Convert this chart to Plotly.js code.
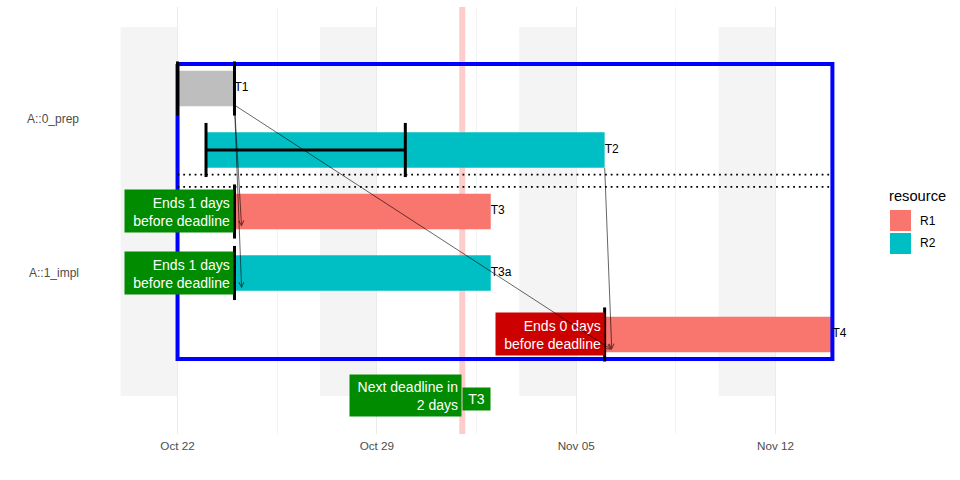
<!DOCTYPE html>
<html><head><meta charset="utf-8">
<script src="https://cdn.plot.ly/plotly-3.0.1.min.js"></script>
<style>html,body{margin:0;padding:0;background:#fff}#chart{width:960px;height:480px}</style>
</head><body><div id="chart"></div>
<script>
// ---------- data ----------
const tasks = ['T1', 'T2', 'T3', 'T3a', 'T4'];
const taskRows = [1, 2, 3, 4, 5];
const taskStarts = ['2018-10-22', '2018-10-23', '2018-10-24', '2018-10-24', '2018-11-06'];
const taskEnds = ['2018-10-24', '2018-11-06', '2018-11-02', '2018-11-02', '2018-11-14'];
const taskResources = [null, 'R2', 'R1', 'R2', 'R1'];
const resources = ['R1', 'R2'];
const groupLabels = ['A::0_prep', 'A::1_impl'];
const groupRows = [1.5, 4];
const weekendStarts = ['2018-10-20', '2018-10-27', '2018-11-03', '2018-11-10'];
const weekendEnds = ['2018-10-22', '2018-10-29', '2018-11-05', '2018-11-12'];
const weekendRowFrom = 0, weekendRowTo = 6;
const today = '2018-11-01';
const markTasks = ['T1', 'T1', 'T3', 'T3a', 'T4'];
const markDates = ['2018-10-22', '2018-10-24', '2018-10-24', '2018-10-24', '2018-11-06'];
const rangeTask = 'T2', rangeStart = '2018-10-23', rangeEnd = '2018-10-30';
const deadlineTasks = ['T3', 'T3a', 'T4'];
const deadlineDates = ['2018-10-24', '2018-10-24', '2018-11-06'];
const daysBeforeDeadline = [1, 1, 0];
const depFrom = ['T1', 'T1', 'T1', 'T2'];
const depTo = ['T3', 'T3a', 'T4', 'T4'];
const boxStart = '2018-10-22', boxEnd = '2018-11-14', boxRowTop = 0.6, boxRowBottom = 5.4;
const separatorRows = [2.4, 2.6];
const nextDeadlineDays = 2, nextDeadlineTask = 'T3';
const nextDeadlineRow = 6.0, nextTaskRow = 6.05;

// ---------- styles ----------
const FONT = 'Liberation Sans, Arial, sans-serif';
const resColors = {R1: '#F8766D', R2: '#00BFC4'};
const noResColor = '#BEBEBE';
const BAR_W = 0.58, MARK_H = 0.44;

const DAY = 86400000;
function ms(d) { return Date.parse(d.length <= 10 ? d + 'T00:00:00Z' : d.replace(' ', 'T') + 'Z'); }
function fmt(t) {
  const d = new Date(t), p = n => String(n).padStart(2, '0');
  return d.getUTCFullYear() + '-' + p(d.getUTCMonth() + 1) + '-' + p(d.getUTCDate()) + ' ' + p(d.getUTCHours()) + ':' + p(d.getUTCMinutes());
}
function rowOf(t) { return taskRows[tasks.indexOf(t)]; }

const traces = [];
// bars
const barGroups = [{res: null, color: noResColor}].concat(resources.map(r => ({res: r, color: resColors[r]})));
barGroups.forEach(g => {
  const idx = tasks.map((t, i) => i).filter(i => taskResources[i] === g.res);
  traces.push({
    type: 'bar', orientation: 'h', name: g.res || 'NA',
    y: idx.map(i => taskRows[i]), base: idx.map(i => taskStarts[i]),
    x: idx.map(i => ms(taskEnds[i]) - ms(taskStarts[i])),
    width: BAR_W, marker: {color: g.color, line: {width: 0}},
    showlegend: false, hoverinfo: 'skip'
  });
});
// blue box
traces.push({
  type: 'scatter', mode: 'lines', showlegend: false, hoverinfo: 'skip',
  x: [boxStart, boxEnd, boxEnd, boxStart, boxStart],
  y: [boxRowTop, boxRowTop, boxRowBottom, boxRowBottom, boxRowTop],
  line: {color: '#0000FF', width: 4}
});
// separators
const sx = [], sy = [];
separatorRows.forEach(r => { sx.push(boxStart, boxEnd, null); sy.push(r, r, null); });
traces.push({type: 'scatter', mode: 'lines', x: sx, y: sy, showlegend: false, hoverinfo: 'skip',
  line: {color: '#000', width: 1.8, dash: '1.8px,3.9px'}});
// deadline marks
const mx = [], my = [];
markTasks.forEach((t, i) => { const r = rowOf(t); mx.push(markDates[i], markDates[i], null); my.push(r - MARK_H, r + MARK_H, null); });
traces.push({type: 'scatter', mode: 'lines', x: mx, y: my, showlegend: false, hoverinfo: 'skip',
  line: {color: '#000', width: 3}});
// range bar for T2
const rr = rowOf(rangeTask);
traces.push({type: 'scatter', mode: 'lines', showlegend: false, hoverinfo: 'skip',
  x: [rangeStart, rangeEnd, null, rangeStart, rangeStart, null, rangeEnd, rangeEnd],
  y: [rr, rr, null, rr - MARK_H, rr + MARK_H, null, rr - MARK_H, rr + MARK_H],
  line: {color: '#000', width: 3}});
// task text
traces.push({type: 'scatter', mode: 'text', x: taskEnds, y: taskRows, text: tasks,
  textposition: 'middle right', textfont: {family: FONT, size: 12, color: '#000'},
  showlegend: false, hoverinfo: 'skip', cliponaxis: false});

// ---------- annotations ----------
const annotations = [];
deadlineTasks.forEach((t, i) => {
  const n = daysBeforeDeadline[i];
  annotations.push({
    x: deadlineDates[i], y: rowOf(t), xref: 'x', yref: 'y', xanchor: 'right', yanchor: 'middle',
    text: 'Ends ' + n + ' days<br>before deadline', align: 'right', valign: 'bottom', showarrow: false,
    bgcolor: n > 0 ? '#008B00' : '#CD0000', borderpad: 3, width: 102, height: 36,
    font: {family: FONT, size: 14, color: '#fff'}
  });
});
annotations.push({
  x: today, y: nextDeadlineRow, xref: 'x', yref: 'y', xanchor: 'right', yanchor: 'middle',
  text: 'Next deadline in<br>' + nextDeadlineDays + ' days', align: 'right', valign: 'bottom', showarrow: false,
  bgcolor: '#008B00', borderpad: 3, width: 105, height: 35,
  font: {family: FONT, size: 14, color: '#fff'}
});
annotations.push({
  x: today, y: nextTaskRow, xref: 'x', yref: 'y', xanchor: 'left', yanchor: 'middle',
  text: nextDeadlineTask, align: 'center', showarrow: false,
  bgcolor: '#008B00', borderpad: 3, width: 21, height: 16,
  font: {family: FONT, size: 14, color: '#fff'}
});
// dependency arrows
depFrom.forEach((f, i) => {
  const fi = tasks.indexOf(f), ti = tasks.indexOf(depTo[i]);
  annotations.push({
    xref: 'x', yref: 'y', axref: 'x', ayref: 'y', text: '', showarrow: true,
    ax: taskEnds[fi], ay: taskRows[fi] + 0.27,
    x: fmt(ms(taskStarts[ti]) + DAY / 4), y: taskRows[ti] + 0.25,
    arrowhead: 5, arrowsize: 1, arrowwidth: 1, arrowcolor: 'rgba(0,0,0,0.6)', standoff: 0, startstandoff: 0
  });
});

// ---------- manual legend ----------
const L = 85, R = 92, T = 7, B = 46, W = 960 - L - R, H = 480 - T - B;
const xp = px => (px - L) / W, yp = py => 1 - (py - T) / H;
annotations.push({xref: 'paper', yref: 'paper', x: xp(887), y: yp(196), xanchor: 'left', yanchor: 'middle',
  text: 'resource', showarrow: false, font: {family: FONT, size: 14.7, color: '#000'}});
const shapes = [];
resources.forEach((r, i) => {
  const top = 210 + i * 23;
  shapes.push({type: 'rect', xref: 'paper', yref: 'paper', x0: xp(890), x1: xp(911), y0: yp(top), y1: yp(top + 21),
    fillcolor: resColors[r], line: {width: 0}, layer: 'above'});
  annotations.push({xref: 'paper', yref: 'paper', x: xp(918), y: yp(top + 10.5), xanchor: 'left', yanchor: 'middle',
    text: r, showarrow: false, font: {family: FONT, size: 12, color: '#000'}});
});
// weekend bands
weekendStarts.forEach((s, i) => {
  shapes.push({type: 'rect', xref: 'x', yref: 'y', x0: s, x1: weekendEnds[i], y0: weekendRowFrom, y1: weekendRowTo,
    fillcolor: '#F4F4F4', line: {width: 0}, layer: 'below'});
});
// today line
shapes.push({type: 'line', xref: 'x', yref: 'paper', x0: today, x1: today, y0: 0, y1: 1,
  line: {color: 'rgba(255,0,0,0.2)', width: 6}, layer: 'below'});

const layout = {
  width: 960, height: 480,
  margin: {l: L, r: R, t: T, b: B, pad: 0},
  paper_bgcolor: '#fff', plot_bgcolor: '#fff',
  font: {family: FONT},
  barmode: 'overlay', showlegend: false,
  xaxis: {
    type: 'date', range: ['2018-10-18 18:00', '2018-11-15 06:00'],
    tick0: '2018-10-22', dtick: 7 * DAY, tickformat: '%b %d',
    showgrid: true, gridcolor: '#EBEBEB', gridwidth: 1.1, zeroline: false, showline: false, ticks: '',
    tickfont: {family: FONT, size: 11.7, color: '#4D4D4D'}, ticklabelstandoff: 3,
    minor: {tick0: '2018-10-25 12:00', dtick: 7 * DAY, showgrid: true, gridcolor: '#EBEBEB', gridwidth: 0.6, ticks: ''}
  },
  yaxis: {
    range: [6.618, -0.325], tickmode: 'array', tickvals: groupRows, ticktext: groupLabels,
    showgrid: false, zeroline: false, showline: false, ticks: '', ticklabelstandoff: 5,
    tickfont: {family: FONT, size: 12, color: '#4D4D4D'}
  },
  shapes: shapes, annotations: annotations
};
Plotly.newPlot('chart', traces, layout, {staticPlot: true, displayModeBar: false});
</script>
</body></html>
